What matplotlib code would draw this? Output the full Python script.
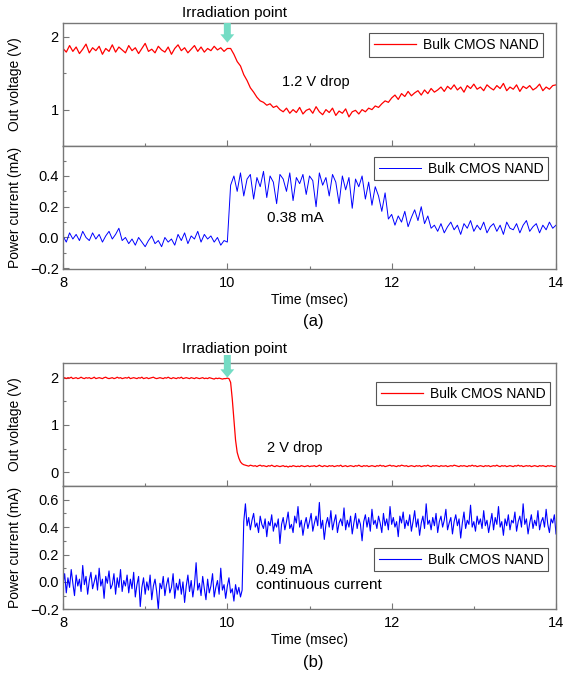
import numpy as np
import matplotlib
matplotlib.use("Agg")
import matplotlib.pyplot as plt
from matplotlib.ticker import MultipleLocator

plt.rcParams["font.family"] = ["Liberation Sans", "DejaVu Sans"]

LEGEND_LABEL = "Bulk CMOS NAND"
T_START, T_END = 8.0, 14.0

# (a) output voltage, V (sampled every 0.04 ms)
a_voltage = [
    1.84, 1.79, 1.88, 1.80, 1.86, 1.77, 1.83, 1.90, 1.78, 1.85,
    1.81, 1.87, 1.76, 1.84, 1.80, 1.89, 1.79, 1.86, 1.82, 1.78,
    1.88, 1.81, 1.85, 1.77, 1.84, 1.91, 1.80, 1.83, 1.78, 1.87,
    1.82, 1.79, 1.86, 1.76, 1.84, 1.89, 1.81, 1.85, 1.78, 1.83,
    1.88, 1.80, 1.86, 1.79, 1.84, 1.81, 1.87, 1.82, 1.85, 1.80,
    1.84,
    1.84, 1.76, 1.66, 1.60, 1.48, 1.40, 1.30, 1.24, 1.17, 1.12,
    1.10, 1.06, 1.08, 1.03, 1.05, 1.00,
    0.97, 1.02, 0.95, 1.00, 0.96, 1.03, 0.94, 0.99, 1.01, 0.95,
    1.04, 0.97, 0.93, 1.00, 0.96, 1.02, 0.92, 0.98, 0.95, 1.01,
    0.90, 0.97, 0.99, 0.94, 1.00,
    0.97, 1.02, 1.00, 1.05, 1.03, 1.08, 1.12, 1.10,
    1.16, 1.20, 1.14, 1.22, 1.18, 1.25, 1.19, 1.23, 1.26, 1.20,
    1.27, 1.22, 1.29, 1.24, 1.27, 1.31,
    1.25, 1.32, 1.28, 1.34, 1.27, 1.31, 1.24, 1.33, 1.29, 1.35,
    1.28, 1.31, 1.26, 1.34, 1.30, 1.27, 1.33, 1.29, 1.36, 1.26,
    1.31, 1.28, 1.34, 1.25, 1.32, 1.29, 1.33, 1.27, 1.30, 1.35,
    1.26, 1.31, 1.28, 1.33, 1.34,
]

# (a) power current, mA (every 0.04 ms)
a_current = [
    0.01, -0.03, 0.03, -0.01, 0.02, -0.02, 0.04, 0.00, -0.02, 0.03,
    -0.01, 0.02, -0.03, 0.01, 0.04, -0.01, 0.02, 0.06, -0.02, 0.00,
    -0.04, -0.01, -0.05, 0.00, -0.03, -0.06, -0.02, 0.01, -0.04, -0.02,
    -0.06, 0.00, -0.03, -0.01, -0.05, 0.02, -0.02, 0.03, -0.04, 0.01,
    -0.01, 0.04, -0.03, 0.02, -0.01, 0.01, -0.03, 0.00, -0.05, -0.02,
    -0.03, 0.34,
    0.40, 0.30, 0.42, 0.27, 0.38, 0.41, 0.25, 0.39, 0.33, 0.43,
    0.26, 0.40, 0.36, 0.22, 0.41, 0.38, 0.30, 0.42, 0.24, 0.39,
    0.35, 0.41, 0.28, 0.40, 0.37, 0.20, 0.42, 0.34, 0.39,
    0.27, 0.41, 0.36, 0.22, 0.40, 0.31, 0.39, 0.19, 0.38, 0.33, 0.40, 0.25,
    0.36, 0.21, 0.33, 0.27, 0.17, 0.29, 0.12,
    0.15, 0.08, 0.14, 0.10, 0.17, 0.07, 0.13, 0.18, 0.11, 0.20, 0.09, 0.14, 0.06,
    0.08, 0.04, 0.09, 0.03, 0.07, 0.10, 0.05, 0.08, 0.02, 0.09,
    0.06, 0.11, 0.04, 0.08, 0.05, 0.10, 0.03, 0.07, 0.09, 0.04,
    0.08, 0.02, 0.10, 0.06, 0.05, 0.09, 0.03, 0.08, 0.11, 0.04,
    0.07, 0.09, 0.03, 0.08, 0.05, 0.10, 0.06, 0.08,
]

# (b) output voltage, V (every 0.02 ms)
b_voltage = [
    1.99, 2.00, 1.98, 2.00, 1.99, 2.01, 1.98, 1.99, 2.00, 1.98, 1.99, 2.01, 1.99, 1.98, 2.00, 1.99, 2.00, 1.98, 1.99, 2.01,
    1.98, 1.99, 2.00, 1.99, 1.98, 2.00, 2.01, 1.99, 1.98, 1.99, 2.00, 1.98, 1.99, 2.01, 1.99, 2.00, 1.98, 1.99, 2.00, 1.99,
    2.01, 1.98, 1.99, 2.00, 1.99, 1.98, 2.00, 1.99, 2.01, 1.98, 1.99, 2.00, 1.98, 1.99, 2.00, 2.01, 1.99, 1.98, 1.99, 2.00,
    1.99, 1.98, 2.00, 1.99, 2.01, 1.99, 1.98, 2.00, 1.99, 1.98, 2.00, 1.99, 2.01, 1.98, 1.99, 2.00, 1.99, 1.98, 2.00, 1.99,
    1.98, 2.00, 1.99, 1.98, 1.99, 2.00, 1.98, 1.99, 1.98, 2.00, 1.99, 1.98, 1.97, 1.99, 1.98, 1.99, 1.98, 1.97, 1.98, 1.98,
    1.99, 1.98, 1.90, 1.55, 1.10, 0.68, 0.42, 0.30, 0.22, 0.18, 0.16, 0.15,
    0.14, 0.13, 0.15, 0.14, 0.13, 0.14, 0.12, 0.14, 0.15, 0.13, 0.14, 0.13, 0.12, 0.14, 0.13, 0.15, 0.13, 0.12, 0.14, 0.13,
    0.12, 0.13, 0.14, 0.12, 0.13, 0.11, 0.13, 0.12, 0.14, 0.13, 0.12, 0.13, 0.12, 0.14, 0.13, 0.12, 0.13, 0.14, 0.12, 0.13,
    0.13, 0.14, 0.12, 0.13, 0.15, 0.13, 0.12, 0.14, 0.13, 0.12, 0.14, 0.13, 0.14, 0.12, 0.13, 0.14, 0.13, 0.15, 0.12, 0.13,
    0.14, 0.12, 0.13, 0.14, 0.13, 0.12, 0.14, 0.13, 0.15, 0.13, 0.12, 0.14, 0.13, 0.14, 0.12, 0.13, 0.14, 0.13, 0.12, 0.14,
    0.13, 0.15, 0.13, 0.14, 0.12, 0.13, 0.14, 0.15, 0.13, 0.14, 0.13, 0.12, 0.14, 0.13, 0.15, 0.14, 0.13, 0.14, 0.12, 0.13,
    0.14, 0.13, 0.12, 0.14, 0.13, 0.14, 0.12, 0.13, 0.14, 0.13, 0.15, 0.13, 0.12, 0.14, 0.13, 0.14, 0.13, 0.12, 0.14, 0.13,
    0.13, 0.14, 0.12, 0.13, 0.14, 0.13, 0.15, 0.14, 0.13, 0.12, 0.14, 0.13, 0.14, 0.13, 0.12, 0.14, 0.13, 0.15, 0.13, 0.14,
    0.12, 0.13, 0.14, 0.13, 0.12, 0.14, 0.13, 0.14, 0.12, 0.13, 0.14, 0.13, 0.15, 0.13, 0.12, 0.14, 0.13, 0.14, 0.12, 0.13,
    0.14, 0.13, 0.12, 0.14, 0.13, 0.15, 0.13, 0.14, 0.12, 0.13, 0.14, 0.13, 0.14, 0.12, 0.13, 0.14, 0.13, 0.12, 0.14, 0.13,
    0.14, 0.13, 0.12, 0.14, 0.13, 0.14, 0.13, 0.12, 0.13,
]

# (b) power current, mA (every 0.02 ms)
b_current = [
    -0.02, 0.06, -0.08, 0.03, -0.04, 0.09, -0.01, -0.10, 0.05, -0.03, 0.02, -0.07, 0.12, -0.02, 0.04, -0.09, 0.01, 0.07, -0.05, 0.00,
    0.05, -0.06, 0.10, -0.03, 0.02, -0.12, 0.04, -0.01, 0.08, -0.05, -0.02, 0.06, -0.09, 0.03, -0.04, 0.09, -0.07, 0.01, -0.03, 0.05,
    -0.08, 0.02, -0.05, 0.07, -0.11, -0.02, 0.04, -0.18, -0.04, 0.03, -0.09, 0.00, -0.06, 0.05, -0.13, -0.03, 0.02, -0.07, -0.20, -0.01,
    -0.05, 0.04, -0.10, -0.02, 0.03, -0.08, -0.04, 0.06, -0.12, -0.01, -0.06, 0.02, -0.09, 0.00, -0.15, -0.03, 0.05, -0.07, 0.01, -0.11,
    -0.02, 0.14, -0.06, -0.01, -0.10, 0.04, -0.05, -0.13, 0.02, -0.08, -0.03, 0.06, -0.11, -0.04, 0.01, -0.09, 0.10, -0.06, -0.02, -0.12,
    -0.03, 0.03, -0.08, -0.05, -0.14, -0.02, -0.09, -0.04, -0.11, -0.06,
    0.44, 0.57, 0.41, 0.47, 0.38, 0.45, 0.50, 0.40, 0.43, 0.36, 0.48, 0.42, 0.39, 0.46, 0.33, 0.44, 0.41, 0.49, 0.37, 0.43,
    0.40, 0.46, 0.28, 0.42, 0.47, 0.38, 0.44, 0.51, 0.39, 0.42, 0.36, 0.48, 0.43, 0.55, 0.40, 0.45, 0.34, 0.42, 0.47, 0.39,
    0.44, 0.50, 0.37, 0.43, 0.48, 0.41, 0.58, 0.39, 0.45, 0.31, 0.42, 0.47, 0.40, 0.52, 0.38, 0.44, 0.49, 0.36, 0.43, 0.46,
    0.41, 0.54, 0.38, 0.45, 0.40, 0.48, 0.35, 0.43, 0.50, 0.39, 0.46, 0.42, 0.30, 0.44, 0.49, 0.40, 0.47, 0.37, 0.53, 0.42,
    0.45, 0.39, 0.48, 0.43, 0.36, 0.50, 0.41, 0.46, 0.38, 0.55, 0.42, 0.47, 0.40, 0.44, 0.33, 0.48, 0.43, 0.51, 0.39, 0.45,
    0.41, 0.49, 0.37, 0.44, 0.52, 0.40, 0.46, 0.34, 0.43, 0.48, 0.39, 0.57, 0.42, 0.45, 0.38, 0.47, 0.41, 0.50, 0.36, 0.44,
    0.48, 0.40, 0.45, 0.53, 0.38, 0.43, 0.47, 0.35, 0.44, 0.49, 0.41, 0.46, 0.32, 0.43, 0.51, 0.39, 0.45, 0.42, 0.56, 0.40,
    0.44, 0.37, 0.48, 0.42, 0.46, 0.39, 0.52, 0.41, 0.45, 0.36, 0.43, 0.50, 0.38, 0.47, 0.42, 0.55, 0.40, 0.44, 0.34, 0.46,
    0.41, 0.49, 0.38, 0.45, 0.43, 0.51, 0.37, 0.44, 0.48, 0.40, 0.57, 0.42, 0.46, 0.35, 0.43, 0.49, 0.39, 0.45, 0.41, 0.52,
    0.38, 0.44, 0.47, 0.40, 0.53, 0.42, 0.36, 0.46, 0.43, 0.49, 0.35,
]

W, H = 564, 674
SPINE = "#777777"
ARROW = "#74dcc4"


def frac(x0, top, x1, bottom):
    return [x0 / W, 1 - bottom / H, (x1 - x0) / W, (bottom - top) / H]


def style_axes(ax, ylim, major, minor, show_x):
    ax.set_xlim(T_START, T_END)
    ax.set_ylim(*ylim)
    ax.xaxis.set_major_locator(MultipleLocator(2))
    ax.xaxis.set_minor_locator(MultipleLocator(1))
    ax.yaxis.set_major_locator(MultipleLocator(major))
    ax.yaxis.set_minor_locator(MultipleLocator(minor))
    ax.tick_params(which="both", direction="in", color=SPINE, top=False, right=False)
    ax.tick_params(which="major", length=4, width=0.8, labelsize=10.5, pad=3)
    ax.tick_params(which="minor", length=2.5, width=0.8)
    ax.tick_params(axis="x", labelbottom=show_x, pad=5)
    for s in ax.spines.values():
        s.set_color(SPINE)
        s.set_linewidth(1.0)


def add_legend(ax, anchor):
    leg = ax.legend(loc="upper right", bbox_to_anchor=anchor, borderaxespad=0,
                    fontsize=10, handlelength=3.0, handletextpad=0.5,
                    borderpad=0.35, fancybox=False, framealpha=1)
    leg.get_frame().set_edgecolor("#555555")
    leg.get_frame().set_linewidth(0.8)


def add_arrow(fig, ax, tip_y, tail_frac, label_y):
    ax.annotate("", xy=(10.0, tip_y), xycoords="data",
                xytext=(10.0, tail_frac), textcoords=("data", "axes fraction"),
                arrowprops=dict(arrowstyle="simple,head_length=0.6,head_width=1.0,tail_width=0.5",
                                color=ARROW, lw=0, shrinkA=0, shrinkB=0,
                                mutation_scale=10),
                annotation_clip=False)
    fig.text(234 / W, 1 - label_y / H, "Irradiation point", fontsize=11,
             ha="center", va="center")


fig = plt.figure(figsize=(W / 100, H / 100), dpi=100)

# ---- panel (a)
ax = fig.add_axes(frac(63, 23, 556, 146))
t = np.linspace(T_START, T_END, len(a_voltage))
ax.plot(t, a_voltage, color="red", lw=0.9, label=LEGEND_LABEL)
style_axes(ax, (0.5, 2.19), 1, 0.5, False)
ax.set_ylabel("Out voltage (V)", fontsize=10)
ax.yaxis.set_label_coords(-0.083, 0.5)
add_legend(ax, (0.974, 0.919))
ax.text(10.66, 1.38, "1.2 V drop", fontsize=10.5, va="center")
add_arrow(fig, ax, 1.92, 1.0, 13)

ax = fig.add_axes(frac(63, 146, 556, 269.3))
t = np.linspace(T_START, T_END, len(a_current))
ax.plot(t, a_current, color="blue", lw=0.7, label=LEGEND_LABEL)
style_axes(ax, (-0.207, 0.595), 0.2, 0.1, True)
ax.set_ylabel("Power current (mA)", fontsize=10)
ax.yaxis.set_label_coords(-0.083, 0.5)
ax.set_xlabel("Time (msec)", fontsize=10, labelpad=2)
add_legend(ax, (0.984, 0.913))
ax.text(10.48, 0.128, "0.38 mA", fontsize=11, va="center")
fig.text(313 / W, 1 - 321 / H, "(a)", fontsize=12, ha="center", va="center")

# ---- panel (b)
ax = fig.add_axes(frac(63, 363, 556, 486))
t = np.linspace(T_START, T_END, len(b_voltage))
ax.plot(t, b_voltage, color="red", lw=0.9, label=LEGEND_LABEL)
style_axes(ax, (-0.29, 2.31), 1, 0.5, False)
ax.set_ylabel("Out voltage (V)", fontsize=10)
ax.yaxis.set_label_coords(-0.083, 0.5)
add_legend(ax, (0.988, 0.848))
ax.text(10.48, 0.51, "2 V drop", fontsize=10.5, va="center")
add_arrow(fig, ax, 2.0, 1.065, 349)

ax = fig.add_axes(frac(63, 486, 556, 609.3))
t = np.linspace(T_START, T_END, len(b_current))
ax.plot(t, b_current, color="blue", lw=0.8, label=LEGEND_LABEL)
style_axes(ax, (-0.2, 0.7), 0.2, 0.1, True)
ax.set_ylabel("Power current (mA)", fontsize=10)
ax.yaxis.set_label_coords(-0.083, 0.5)
ax.set_xlabel("Time (msec)", fontsize=10, labelpad=2)
add_legend(ax, (0.984, 0.5))
ax.text(10.345, 0.032, "0.49 mA\ncontinuous current", fontsize=11,
        va="center", linespacing=1.15)
fig.text(313 / W, 1 - 662 / H, "(b)", fontsize=12, ha="center", va="center")

fig.savefig("out.png", dpi=100)
